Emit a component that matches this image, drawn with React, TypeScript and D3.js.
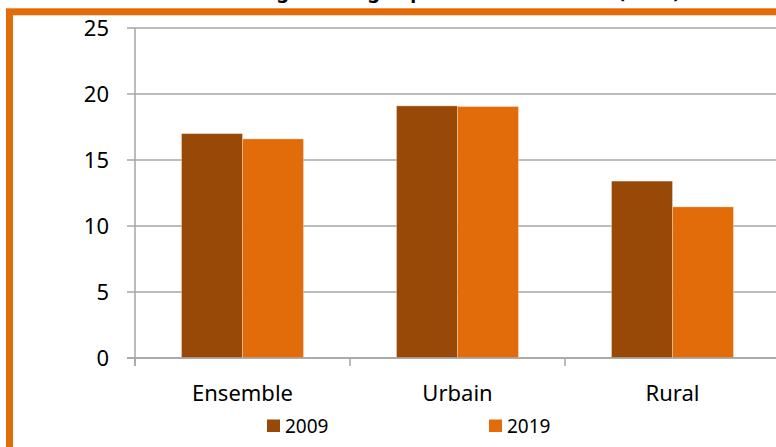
import { useEffect, useRef } from "react"
import * as d3 from "d3"

const categories = ["Ensemble", "Urbain", "Rural"]
const years = ["2009", "2019"]
const values2009 = [17.0, 19.1, 13.4]
const values2019 = [16.6, 19.05, 11.45]
const yTicks = [0, 5, 10, 15, 20, 25]
const colors = ["#984807", "#E36C0A"]
const title = "Taux de chômage de longue période selon milieu (en %)"

export default function App() {
    const ref = useRef<SVGSVGElement | null>(null)

    useEffect(() => {
        const width = 776
        const height = 447
        const svg = d3.select(ref.current)
        svg.selectAll("*").remove()

        const font = "'Noto Sans', sans-serif"

        const x = d3.scaleBand<string>()
            .domain(categories)
            .range([135, 780])
            .paddingInner(0.4326)
            .paddingOuter(0.2163)

        const x1 = d3.scaleBand<string>()
            .domain(years)
            .range([0, x.bandwidth()])

        const y = d3.scaleLinear()
            .domain([0, 25])
            .range([358, 28])

        // background
        svg.append("rect")
            .attr("width", width)
            .attr("height", height)
            .attr("fill", "#fff")

        // title, clipped by the top edge as in the source
        svg.append("text")
            .attr("x", 680)
            .attr("y", -2)
            .attr("text-anchor", "end")
            .attr("font-family", font)
            .attr("font-weight", "bold")
            .attr("font-size", 20)
            .attr("fill", "#000")
            .text(title)

        // frame
        svg.append("rect")
            .attr("x", 9.5)
            .attr("y", 11.8)
            .attr("width", width + 20)
            .attr("height", height + 20)
            .attr("fill", "none")
            .attr("stroke", "#E36C0A")
            .attr("stroke-width", 7)

        // gridlines
        svg.append("g")
            .selectAll("line")
            .data(yTicks)
            .join("line")
                .attr("x1", 127)
                .attr("x2", width)
                .attr("y1", d => y(d))
                .attr("y2", d => y(d))
                .attr("stroke", "#a6a6a6")
                .attr("stroke-width", 1.5)

        // y tick labels
        svg.append("g")
            .selectAll("text")
            .data(yTicks)
            .join("text")
                .attr("x", 109)
                .attr("y", d => y(d))
                .attr("dy", "0.36em")
                .attr("text-anchor", "end")
                .attr("font-family", font)
                .attr("font-size", 22)
                .attr("fill", "#000")
                .text(d => d)

        // y axis line
        svg.append("line")
            .attr("x1", 135)
            .attr("x2", 135)
            .attr("y1", y(25))
            .attr("y2", y(0) + 8)
            .attr("stroke", "#a6a6a6")
            .attr("stroke-width", 1.5)

        // category ticks
        const step = x.step()
        svg.append("g")
            .selectAll("line")
            .data(categories.concat([""]))
            .join("line")
                .attr("x1", (_, i) => 135 + i * step)
                .attr("x2", (_, i) => 135 + i * step)
                .attr("y1", y(0))
                .attr("y2", y(0) + 8)
                .attr("stroke", "#a6a6a6")
                .attr("stroke-width", 1.5)

        // bars
        const series = [values2009, values2019]
        years.forEach((yr, si) => {
            svg.append("g")
                .selectAll("rect")
                .data(categories)
                .join("rect")
                    .attr("x", (d) => (x(d) ?? 0) + (x1(yr) ?? 0))
                    .attr("y", (_, i) => y(series[si][i]))
                    .attr("width", x1.bandwidth())
                    .attr("height", (_, i) => y(0) - y(series[si][i]))
                    .attr("fill", colors[si])
                    .attr("stroke", "rgba(255,255,255,0.3)")
                    .attr("stroke-width", 1)
        })

        // baseline on top of bars
        svg.append("line")
            .attr("x1", 127)
            .attr("x2", width)
            .attr("y1", y(0))
            .attr("y2", y(0))
            .attr("stroke", "#a6a6a6")
            .attr("stroke-width", 1.5)

        // category labels
        svg.append("g")
            .selectAll("text")
            .data(categories)
            .join("text")
                .attr("x", d => (x(d) ?? 0) + x.bandwidth() / 2)
                .attr("y", 400.5)
                .attr("text-anchor", "middle")
                .attr("font-family", font)
                .attr("font-size", 22)
                .attr("fill", "#000")
                .text(d => d)

        // legend
        const legend = svg.append("g")
        legend.selectAll("rect")
            .data(years)
            .join("rect")
                .attr("x", (_, i) => 267 + i * 222)
                .attr("y", 419.5)
                .attr("width", 13)
                .attr("height", 12.5)
                .attr("fill", (_, i) => colors[i])
        legend.selectAll("text")
            .data(years)
            .join("text")
                .attr("x", (_, i) => 285 + i * 222)
                .attr("y", 432.5)
                .attr("font-family", font)
                .attr("font-size", 19)
                .attr("fill", "#000")
                .text(d => d)
    }, [])

    return (
        <svg ref={ref} width={776} height={447}
            style={{ position: "absolute", left: 0, top: 0, display: "block" }} />
    )
}
